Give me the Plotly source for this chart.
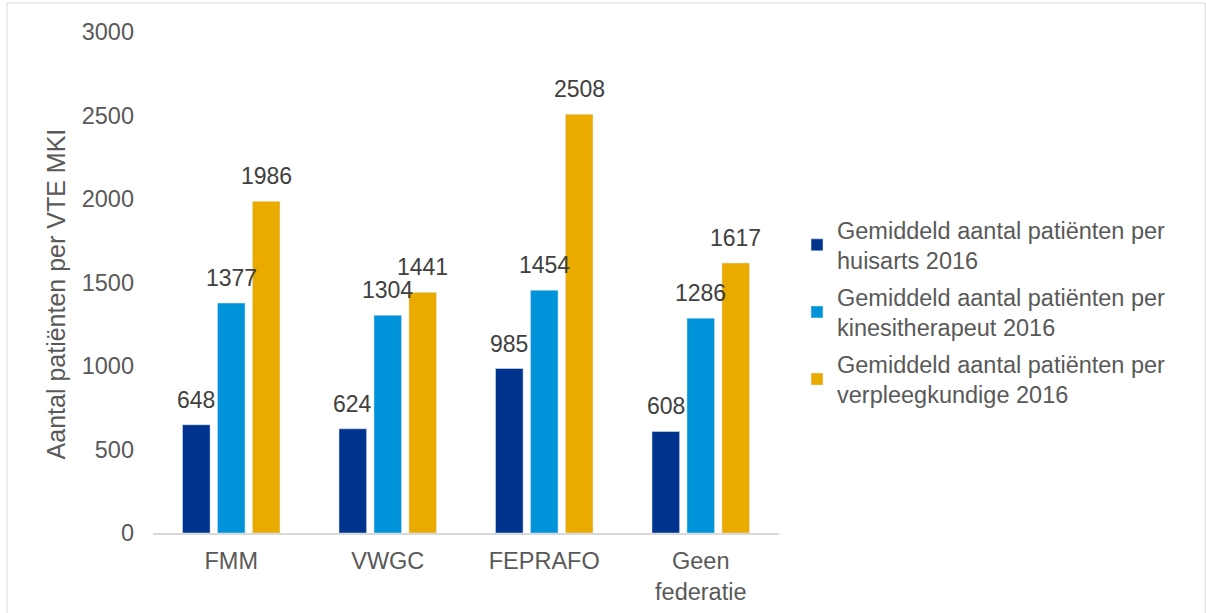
import plotly.graph_objects as go

categories = ["FMM", "VWGC", "FEPRAFO", "Geen<br>federatie"]
series_names = [
    "Gemiddeld aantal patiënten per<br>huisarts 2016",
    "Gemiddeld aantal patiënten per<br>kinesitherapeut 2016",
    "Gemiddeld aantal patiënten per<br>verpleegkundige 2016",
]
huisarts = [648, 624, 985, 608]
kinesitherapeut = [1377, 1304, 1454, 1286]
verpleegkundige = [1986, 1441, 2508, 1617]
colors = ["#00338D", "#0093DA", "#EAAA00"]
y_ticks = [0, 500, 1000, 1500, 2000, 2500, 3000]
y_title = "Aantal patiënten per VTE MKI"

series = [huisarts, kinesitherapeut, verpleegkundige]
BARGAP = 0.33
TXT = "#595959"
FONT = "Liberation Sans, Arial, sans-serif"
FS = 23.5

W, H = 1206, 613
L, R, T, B = 153.3, 427, 31.7, 80.3
pw, ph = W - L - R, H - T - B

fig = go.Figure()
for i, (name, vals, col) in enumerate(zip(series_names, series, colors)):
    fig.add_trace(go.Bar(
        x=categories, y=vals, name=name, marker_color=col,
        legendgroup=f"g{i}",
    ))

# data labels above bars
n = len(series)
slot = (1 - BARGAP) / n
for k, vals in enumerate(series):
    off = (k - (n - 1) / 2) * slot
    for i, v in enumerate(vals):
        fig.add_annotation(
            x=i + off, y=v, xref="x", yref="y", text=str(v),
            showarrow=False, yanchor="bottom", yshift=10,
            font=dict(size=23, color="#404040", family=FONT),
        )

# y axis title
fig.add_annotation(
    x=(56 - L) / pw, y=(T + ph - 293.5) / ph, xref="paper", yref="paper",
    text=y_title, textangle=-90, showarrow=False,
    xanchor="center", yanchor="middle",
    font=dict(size=25, color=TXT, family=FONT),
)

# chart-area border
fig.add_shape(
    type="rect", xref="paper", yref="paper",
    x0=(7.3 - L) / pw, x1=(1205 - L) / pw,
    y0=(T + ph - 630) / ph, y1=(T + ph - 2.7) / ph,
    line=dict(color="#d9d9d9", width=1), fillcolor="rgba(0,0,0,0)", layer="below",
)

fig.update_layout(
    width=W, height=H,
    margin=dict(l=L, r=R, t=T, b=B, autoexpand=False),
    paper_bgcolor="white", plot_bgcolor="white",
    barmode="group", bargap=BARGAP, bargroupgap=0.21,
    font=dict(family=FONT, color=TXT, size=FS),
    showlegend=True,
    legend=dict(
        x=(797 - L) / pw, xanchor="left", y=(T + ph - 312) / ph, yanchor="middle",
        font=dict(size=FS, color=TXT, family=FONT),
        traceorder="grouped", tracegroupgap=3,
        itemwidth=30,
    ),
    xaxis=dict(
        showline=True, linecolor="#d9d9d9", linewidth=1.5,
        ticks="", tickfont=dict(size=FS, color=TXT), ticklabelstandoff=6,
        showgrid=False, automargin=False,
    ),
    yaxis=dict(
        range=[0, 3000], tickvals=y_ticks, showgrid=False,
        zeroline=False, showline=False, ticks="",
        tickfont=dict(size=FS, color=TXT), ticklabelstandoff=18,
        automargin=False,
    ),
)

fig.write_html(
    "out.html",
    config={"displayModeBar": False},
    post_script="document.body.style.margin='0';document.body.style.overflow='hidden';",
)
